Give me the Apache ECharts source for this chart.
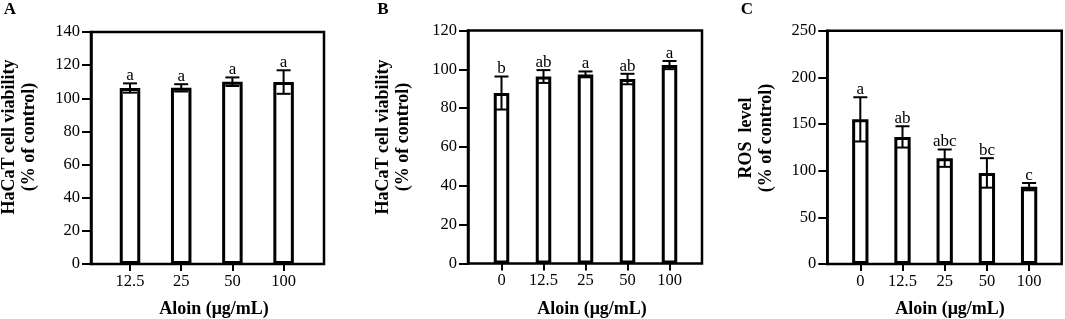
<!DOCTYPE html>
<html>
<head>
<meta charset="utf-8">
<script src="https://cdn.jsdelivr.net/npm/echarts@6/dist/echarts.min.js"></script>
<style>
  html, body { margin: 0; padding: 0; background: #fff; }
  #main { width: 1065px; height: 319px; }
</style>
</head>
<body>
<div id="main"></div>
<script>
// panel A - viability, no control
var dosesA = ['12.5', '25', '50', '100'];
var meanA = [106.2, 106.3, 110.0, 109.8];
var sdA = [2.8, 2.2, 2.6, 7.1];
var letterA = ['a', 'a', 'a', 'a'];
var ticksA = [0, 140, 20];

// panel B - viability
var dosesB = ['0', '12.5', '25', '50', '100'];
var meanB = [87.8, 96.3, 97.4, 95.0, 102.2];
var sdB = [8.5, 3.3, 1.5, 2.7, 2.1];
var letterB = ['b', 'ab', 'a', 'ab', 'a'];
var ticksB = [0, 120, 20];

// panel C - ROS
var dosesC = ['0', '12.5', '25', '50', '100'];
var meanC = [155.0, 136.2, 113.4, 97.6, 82.9];
var sdC = [23.7, 11.4, 9.3, 15.8, 3.9];
var letterC = ['a', 'ab', 'abc', 'bc', 'c'];
var ticksC = [0, 250, 50];

var FONT = "'Liberation Serif', 'Times New Roman', serif";
var chart = echarts.init(document.getElementById('main'));

// frame box and bar area for each panel (px)
var panels = [
    {frame: {left: 91, top: 32, width: 233, height: 232}, bars: {left: 104.4, width: 204.8}, barW: 20.5,
     doses: dosesA, mean: meanA, sd: sdA, letters: letterA, ticks: ticksA},
    {frame: {left: 468, top: 30.5, width: 234, height: 233}, bars: {left: 480.5, width: 210}, barW: 15.5,
     doses: dosesB, mean: meanB, sd: sdB, letters: letterB, ticks: ticksB},
    {frame: {left: 827.3, top: 30.7, width: 234.4, height: 233.3}, bars: {left: 839.2, width: 211}, barW: 16.3,
     doses: dosesC, mean: meanC, sd: sdC, letters: letterC, ticks: ticksC}
];

function errorItem(letters) {
    return function (params, api) {
        var x = api.value(0), m = api.value(1), s = api.value(2);
        var hi = api.coord([x, m + s]);
        var lo = api.coord([x, m - s]);
        var cx = hi[0], w = 7;
        var st = {stroke: '#000', lineWidth: 2};
        return {
            type: 'group',
            children: [
                {type: 'line', shape: {x1: cx, y1: hi[1], x2: cx, y2: lo[1]}, style: st},
                {type: 'line', shape: {x1: cx - w, y1: hi[1], x2: cx + w, y2: hi[1]}, style: st},
                {type: 'line', shape: {x1: cx - w, y1: lo[1], x2: cx + w, y2: lo[1]}, style: st},
                {type: 'text', x: cx, y: hi[1] + 1,
                 style: {text: letters[params.dataIndex], align: 'center', verticalAlign: 'bottom',
                         fontSize: 17, fontFamily: FONT, fill: '#000'}}
            ]
        };
    };
}

var grid = [], xAxis = [], yAxis = [], series = [];
panels.forEach(function (p, i) {
    var f = p.frame;
    grid.push({left: f.left, top: f.top, width: f.width, height: f.height,
               show: true, borderColor: '#000', borderWidth: 2.5, backgroundColor: 'transparent'});
    grid.push({left: p.bars.left, top: f.top, width: p.bars.width, height: f.height});

    xAxis.push({gridIndex: 2 * i, type: 'value', show: false, min: 0, max: 1});
    xAxis.push({
        gridIndex: 2 * i + 1, type: 'category', data: p.doses,
        axisLine: {show: false},
        axisTick: {show: true, alignWithLabel: true, length: 7, lineStyle: {color: '#000', width: 2}},
        axisLabel: {color: '#000', fontSize: 16.5, fontFamily: FONT, margin: 9}
    });

    yAxis.push({
        gridIndex: 2 * i, type: 'value', min: p.ticks[0], max: p.ticks[1], interval: p.ticks[2],
        axisLine: {show: true, lineStyle: {color: '#000', width: 2.5}},
        axisTick: {show: true, length: 9, lineStyle: {color: '#000', width: 2}},
        axisLabel: {color: '#000', fontSize: 16.5, fontFamily: FONT, margin: 11},
        splitLine: {show: false}
    });
    yAxis.push({gridIndex: 2 * i + 1, type: 'value', min: p.ticks[0], max: p.ticks[1], show: false,
                splitLine: {show: false}});

    series.push({
        type: 'bar', xAxisIndex: 2 * i + 1, yAxisIndex: 2 * i + 1,
        data: p.mean, barWidth: p.barW, z: 2,
        itemStyle: {color: '#fff', borderColor: '#000', borderWidth: 3}
    });
    series.push({
        type: 'custom', xAxisIndex: 2 * i + 1, yAxisIndex: 2 * i + 1, z: 5,
        renderItem: errorItem(p.letters),
        data: p.mean.map(function (m, k) { return [k, m, p.sd[k]]; })
    });
});

function label(txt, x, y, size, rot) {
    return {type: 'text', x: x, y: y, rotation: rot || 0,
            style: {text: txt, fontSize: size, fontWeight: 'bold', fontFamily: FONT, fill: '#000',
                    align: 'center', verticalAlign: 'middle', lineHeight: 20}};
}

var option = {
    animation: false,
    backgroundColor: '#fff',
    grid: grid,
    xAxis: xAxis,
    yAxis: yAxis,
    series: series,
    graphic: [
        label('A', 10, 10, 17),
        label('B', 383, 10, 17),
        label('C', 747, 10, 17),
        label('HaCaT cell viability\n(% of control)', 19.5, 137, 18, Math.PI / 2),
        label('HaCaT cell viability\n(% of control)', 393.5, 137, 18, Math.PI / 2),
        label('ROS  level\n(% of control)', 756, 138, 18, Math.PI / 2),
        label('Aloin (μg/mL)', 214, 309, 18),
        label('Aloin (μg/mL)', 592, 309, 18),
        label('Aloin (μg/mL)', 950, 309, 18)
    ]
};
chart.setOption(option);
</script>
</body>
</html>
